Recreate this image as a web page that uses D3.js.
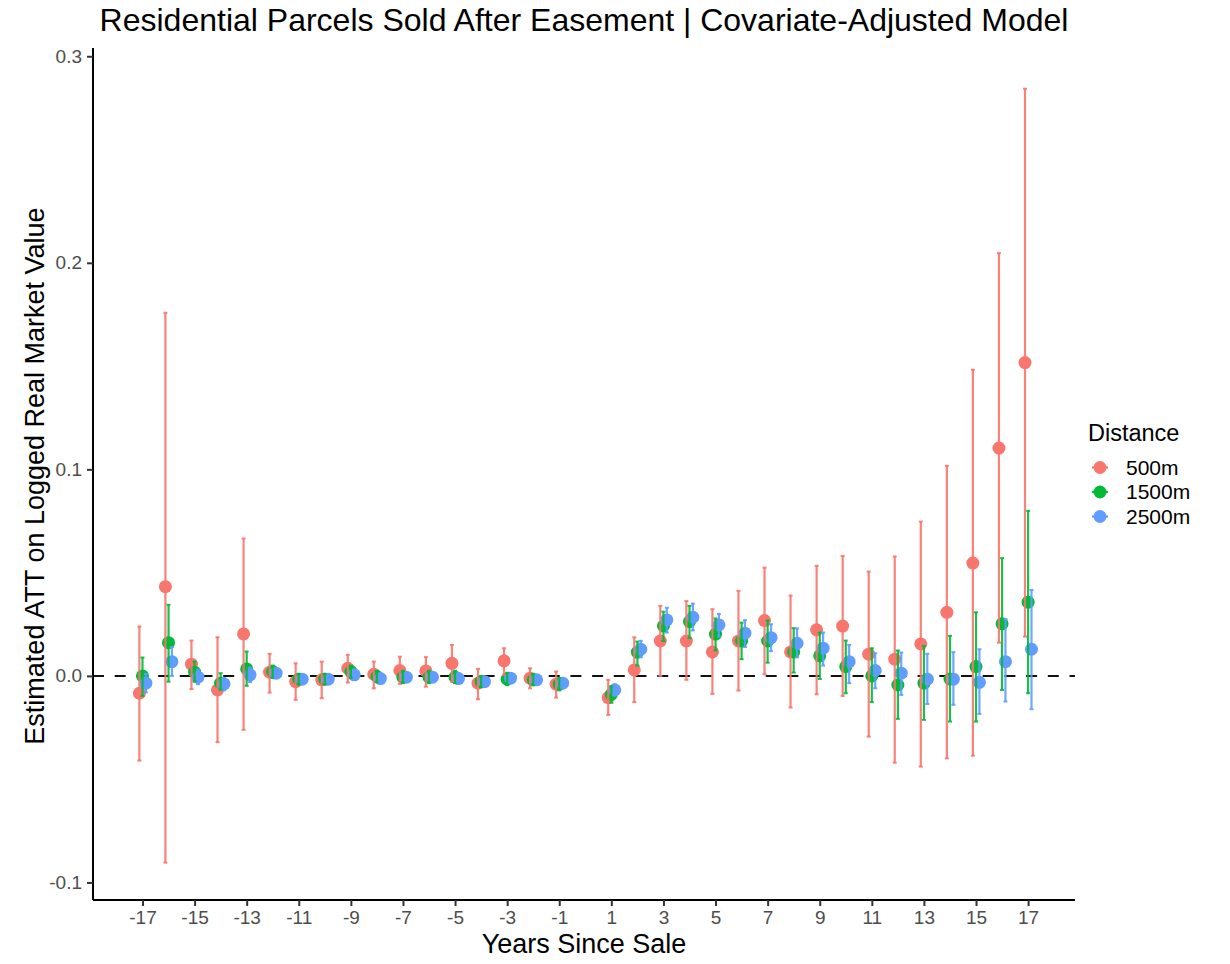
<!DOCTYPE html>
<html>
<head>
<meta charset="utf-8">
<script src="https://cdn.jsdelivr.net/npm/d3@7"></script>
<style>
  html, body { margin: 0; padding: 0; background: #fff; }
  svg { display: block; font-family: "Liberation Sans", Arial, Helvetica, sans-serif; }
</style>
</head>
<body>
<svg id="chart" width="1230" height="964"></svg>
<script>
// Event-study years (no year 0)
const years = [-17,-16,-15,-14,-13,-12,-11,-10,-9,-8,-7,-6,-5,-4,-3,-2,-1,
               1,2,3,4,5,6,7,8,9,10,11,12,13,14,15,16,17];

// 500m: estimate, lower, upper
const est500 = [-0.0084,0.0432,0.0057,-0.0068,0.0203,0.0018,-0.0028,-0.0019,0.0037,0.0008,0.0026,0.0024,0.0061,-0.0035,0.0073,-0.0011,-0.0040,
                -0.0105,0.0029,0.0169,0.0169,0.0116,0.0169,0.0268,0.0116,0.0223,0.0241,0.0105,0.0081,0.0155,0.0308,0.0546,0.1103,0.1517];
const lo500  = [-0.0410,-0.0904,-0.0064,-0.0321,-0.0261,-0.0081,-0.0116,-0.0108,-0.0032,-0.0060,-0.0039,-0.0052,-0.0028,-0.0113,0.0005,-0.0060,-0.0105,
                -0.0189,-0.0127,0.0000,-0.0019,-0.0087,-0.0071,0.0008,-0.0153,-0.0089,-0.0097,-0.0294,-0.0420,-0.0439,-0.0399,-0.0386,0.0161,0.0190];
const hi500  = [0.0239,0.1758,0.0171,0.0187,0.0665,0.0107,0.0061,0.0069,0.0102,0.0069,0.0093,0.0091,0.0150,0.0034,0.0134,0.0037,0.0021,
                -0.0019,0.0187,0.0339,0.0362,0.0323,0.0412,0.0524,0.0389,0.0533,0.0581,0.0505,0.0578,0.0747,0.1017,0.1482,0.2047,0.2843];

// 1500m
const est1500 = [0.0000,0.0161,0.0018,-0.0035,0.0034,0.0021,-0.0016,-0.0016,0.0021,-0.0003,-0.0006,-0.0006,-0.0006,-0.0028,-0.0016,-0.0019,-0.0040,
                 -0.0089,0.0115,0.0242,0.0263,0.0202,0.0169,0.0169,0.0116,0.0097,0.0045,0.0000,-0.0044,-0.0035,-0.0015,0.0045,0.0252,0.0357];
const lo1500  = [-0.0097,-0.0028,-0.0028,-0.0068,-0.0048,-0.0010,-0.0040,-0.0040,-0.0010,-0.0030,-0.0035,-0.0035,-0.0035,-0.0055,-0.0045,-0.0045,-0.0070,
                 -0.0130,0.0050,0.0169,0.0183,0.0123,0.0081,0.0064,0.0016,-0.0015,-0.0084,-0.0127,-0.0208,-0.0213,-0.0221,-0.0221,-0.0068,-0.0084];
const hi1500  = [0.0089,0.0344,0.0069,0.0013,0.0118,0.0050,0.0010,0.0010,0.0050,0.0025,0.0025,0.0025,0.0025,0.0000,0.0015,0.0010,-0.0010,
                 -0.0050,0.0166,0.0311,0.0339,0.0278,0.0258,0.0268,0.0231,0.0210,0.0171,0.0134,0.0123,0.0145,0.0194,0.0308,0.0570,0.0799];

// 2500m
const est2500 = [-0.0035,0.0069,-0.0006,-0.0039,0.0005,0.0013,-0.0016,-0.0016,0.0005,-0.0013,-0.0006,-0.0006,-0.0013,-0.0028,-0.0011,-0.0019,-0.0035,
                 -0.0068,0.0129,0.0271,0.0284,0.0247,0.0207,0.0185,0.0158,0.0134,0.0069,0.0026,0.0013,-0.0016,-0.0016,-0.0031,0.0069,0.0129];
const lo2500  = [-0.0080,0.0000,-0.0040,-0.0070,-0.0030,-0.0010,-0.0035,-0.0035,-0.0015,-0.0030,-0.0025,-0.0025,-0.0030,-0.0050,-0.0030,-0.0040,-0.0055,
                 -0.0095,0.0090,0.0210,0.0220,0.0190,0.0140,0.0120,0.0090,0.0050,-0.0035,-0.0060,-0.0092,-0.0136,-0.0140,-0.0184,-0.0124,-0.0161];
const hi2500  = [0.0010,0.0140,0.0030,-0.0010,0.0040,0.0035,0.0005,0.0005,0.0025,0.0005,0.0013,0.0013,0.0005,-0.0005,0.0010,0.0000,-0.0015,
                 -0.0040,0.0170,0.0330,0.0350,0.0300,0.0270,0.0250,0.0230,0.0210,0.0150,0.0110,0.0113,0.0107,0.0115,0.0129,0.0275,0.0416];

const seriesNames = ["500m", "1500m", "2500m"];
const seriesColors = ["#F8766D", "#00BA38", "#619CFF"];
const xTicks = [-17,-15,-13,-11,-9,-7,-5,-3,-1,1,3,5,7,9,11,13,15,17];
const yTicks = [-0.1, 0.0, 0.1, 0.2, 0.3];

const series = [
  { name: seriesNames[0], color: seriesColors[0], est: est500, lo: lo500, hi: hi500 },
  { name: seriesNames[1], color: seriesColors[1], est: est1500, lo: lo1500, hi: hi1500 },
  { name: seriesNames[2], color: seriesColors[2], est: est2500, lo: lo2500, hi: hi2500 }
];

const svg = d3.select("#chart");
const panel = { left: 93, right: 1075, top: 48, bottom: 900 };

const x = d3.scaleLinear().domain([-18.9, 18.8]).range([panel.left, panel.right]);
const y = d3.scaleLinear().domain([-0.1085, 0.304]).range([panel.bottom, panel.top]);

// dodge offsets in year units
const dodge = [-0.12, 0, 0.13];

// zero reference line
svg.append("line")
  .attr("x1", panel.left).attr("x2", panel.right)
  .attr("y1", y(0)).attr("y2", y(0))
  .attr("stroke", "#111").attr("stroke-width", 2)
  .attr("stroke-dasharray", "11,10.7");

// points
series.forEach((s, i) => {
  svg.append("g").selectAll("circle")
    .data(years.map((yr, k) => ({ yr, v: s.est[k] })))
    .join("circle")
    .attr("cx", d => x(d.yr + dodge[i]))
    .attr("cy", d => y(d.v))
    .attr("r", 6.5)
    .attr("fill", s.color);
});

// error bars
series.forEach((s, i) => {
  const g = svg.append("g").attr("stroke", s.color).attr("stroke-opacity", 0.9);
  const rows = years.map((yr, k) => ({ yr, lo: s.lo[k], hi: s.hi[k] }));
  g.selectAll("line.bar").data(rows).join("line").attr("class", "bar")
    .attr("x1", d => x(d.yr + dodge[i])).attr("x2", d => x(d.yr + dodge[i]))
    .attr("y1", d => y(d.lo)).attr("y2", d => y(d.hi))
    .attr("stroke-width", 2.2);
  ["lo", "hi"].forEach(key => {
    g.selectAll("line.cap-" + key).data(rows).join("line").attr("class", "cap-" + key)
      .attr("x1", d => x(d.yr + dodge[i]) - 2).attr("x2", d => x(d.yr + dodge[i]) + 2)
      .attr("y1", d => y(d[key])).attr("y2", d => y(d[key]))
      .attr("stroke-width", 2);
  });
});

// axes
const xAxis = svg.append("g")
  .attr("transform", `translate(0,${panel.bottom})`)
  .call(d3.axisBottom(x).tickValues(xTicks).tickSize(6).tickPadding(5).tickFormat(d => String(d)));
const yAxis = svg.append("g")
  .attr("transform", `translate(${panel.left},0)`)
  .call(d3.axisLeft(y).tickValues(yTicks).tickSize(6).tickPadding(5).tickFormat(d => d.toFixed(1)));

[xAxis, yAxis].forEach(ax => {
  ax.select(".domain").attr("stroke", "#000").attr("stroke-width", 2);
  ax.selectAll(".tick line").attr("stroke", "#333").attr("stroke-width", 2);
  ax.selectAll(".tick text").attr("fill", "#4D4D4D").style("font-size", "19px")
    .style("font-family", '"Liberation Sans", Arial, sans-serif');
});
xAxis.select(".domain").attr("d", `M${panel.left},0H${panel.right}`);
yAxis.select(".domain").attr("d", `M0,${panel.bottom}V${panel.top}`);

// titles
svg.append("text")
  .attr("x", (panel.left + panel.right) / 2).attr("y", 31)
  .attr("text-anchor", "middle").style("font-size", "32px").attr("fill", "#000")
  .text("Residential Parcels Sold After Easement | Covariate-Adjusted Model");

svg.append("text")
  .attr("x", (panel.left + panel.right) / 2).attr("y", 953)
  .attr("text-anchor", "middle").style("font-size", "27px").attr("fill", "#000")
  .text("Years Since Sale");

svg.append("text")
  .attr("transform", `translate(44,${(panel.top + panel.bottom) / 2 + 2}) rotate(-90)`)
  .attr("text-anchor", "middle").style("font-size", "27px").attr("fill", "#000")
  .text("Estimated ATT on Logged Real Market Value");

// legend
const legend = svg.append("g").attr("transform", "translate(1088,0)");
legend.append("text").attr("x", 0).attr("y", 441)
  .style("font-size", "23.5px").attr("fill", "#000").text("Distance");
series.forEach((s, i) => {
  const cy = 467.5 + i * 24.5;
  legend.append("line").attr("x1", 4).attr("x2", 20).attr("y1", cy).attr("y2", cy)
    .attr("stroke", s.color).attr("stroke-width", 2.2);
  legend.append("circle").attr("cx", 12).attr("cy", cy).attr("r", 6.5).attr("fill", s.color);
  legend.append("text").attr("x", 38).attr("y", cy + 7)
    .style("font-size", "21px").attr("fill", "#000").text(s.name);
});
</script>
</body>
</html>
